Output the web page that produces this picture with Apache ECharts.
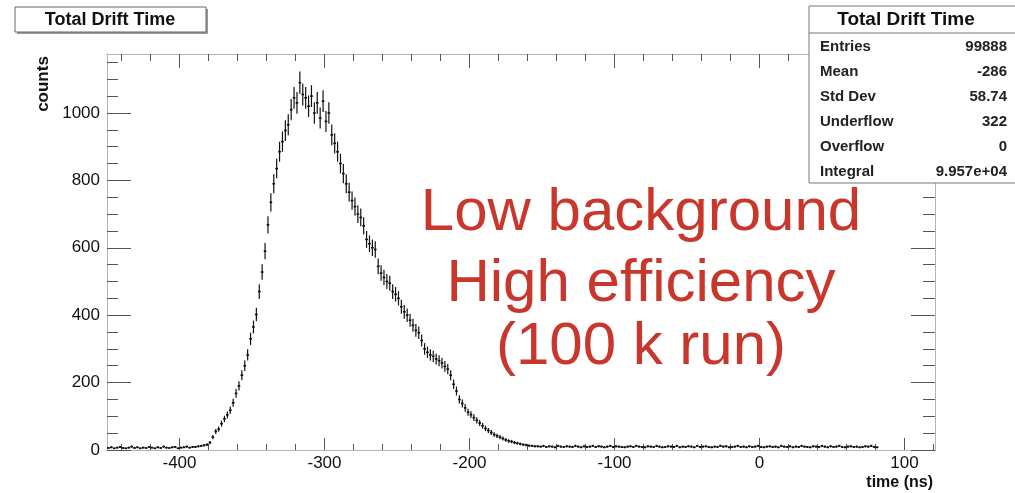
<!DOCTYPE html>
<html>
<head>
<meta charset="utf-8">
<script src="https://cdn.jsdelivr.net/npm/echarts@6.0.0/dist/echarts.min.js"></script>
<style>
  html, body { margin: 0; padding: 0; background: #fff; }
  #chart { width: 1015px; height: 493px; }
</style>
</head>
<body>
<div id="chart"></div>
<script>
// drift time histogram, 1 ns bins, every second bin shown (bin centres in ns)
var binStep = 2;

var flatStart = -449;
var flatCounts = [6, 8, 5, 7, 9, 6, 5, 7, 10, 6, 8, 5, 7, 6, 9, 7, 5, 8, 6, 10,
                  7, 6, 8, 9, 5, 7, 8, 10, 7, 9, 9, 11, 12, 14];

var riseStart = -381;
var riseCounts = [16, 22, 38, 55, 62, 78, 92, 104, 118, 140,
                  168, 190, 222, 250, 282, 330, 365, 402, 470, 528,
                  590, 668, 735, 790, 835, 885, 915, 948, 965, 1010,
                  1045, 1030];

var peakStart = -317;
var peakCounts = [1090, 1055, 1045, 1020, 1050, 1000, 1030, 985, 1035];

var fallStart = -299;
var fallCounts = [975, 1000, 935, 910, 885, 850, 820, 790, 765, 740,
                  722, 700, 690, 665, 625, 612, 600, 595, 545, 525,
                  512, 500, 495, 470, 462, 450, 425, 410, 400, 385,
                  370, 355, 348, 325, 300, 290, 282, 278, 270, 265,
                  258, 248, 240, 222, 195, 175, 150, 138, 125, 112,
                  105, 96, 88, 80, 72, 64, 58, 52, 46, 42,
                  38, 34, 30, 27, 25, 22, 20, 18, 16, 15,
                  13, 12, 11];

var tailStart = -153;
var tailCounts = [11, 10, 12, 9, 11, 10, 8, 12, 10, 9,
                  11, 10, 9, 12, 10, 8, 11, 9, 10, 12,
                  9, 11, 10, 8, 10, 12, 9, 11, 10, 9,
                  8, 10, 11, 9, 12, 10, 9, 8, 11, 10,
                  9, 12, 10, 8, 9, 11, 10, 9, 12, 8,
                  10, 9, 11, 10, 8, 12, 9, 10, 11, 9,
                  8, 10, 9, 12, 10, 11, 8, 9, 10, 12,
                  9, 10, 8, 11, 9, 10, 12, 9, 8, 10,
                  11, 9, 10, 8, 12, 10, 9, 11, 8, 10,
                  9, 12, 10, 9, 8, 11, 10, 9, 12, 10,
                  8, 11, 9, 10, 12, 9, 8, 10, 11, 9,
                  10, 8, 9, 11, 10, 12, 9, 8];

var xMajor = [-400, -300, -200, -100, 0, 100];
var xMinor = [-440, -420, -380, -360, -340, -320, -280, -260, -240, -220, -180, -160,
              -140, -120, -80, -60, -40, -20, 20, 40, 60, 80, 120];
var yMajor = [0, 200, 400, 600, 800, 1000];
var yMinor = [50, 100, 150, 250, 300, 350, 450, 500, 550, 650, 700, 750,
              850, 900, 950, 1050, 1100, 1150];

var statNames = ['Entries', 'Mean', 'Std Dev', 'Underflow', 'Overflow', 'Integral'];
var statValues = ['99888', '-286', '58.74', '322', '0', '9.957e+04'];

var noteLines = ['Low background', 'High efficiency', '(100 k run)'];

var segments = [
    { start: flatStart, values: flatCounts },
    { start: riseStart, values: riseCounts },
    { start: peakStart, values: peakCounts },
    { start: fallStart, values: fallCounts },
    { start: tailStart, values: tailCounts }
];
var points = [];
segments.forEach(function(seg) {
    seg.values.forEach(function(v, i) {
        points.push([seg.start + i * binStep, v]);
    });
});

var FONT = 'Liberation Sans, Arial, sans-serif';
var frameColor = '#b4b4b4';
var tickColor = '#555';

function plain(v) { return String(v); }

function xAxisDef(pos, ticks, len, labels) {
    return {
        type: 'value', min: -450, max: 121, position: pos,
        axisLine: { show: true, onZero: false, lineStyle: { color: frameColor, width: 1 } },
        axisTick: { show: true, inside: true, length: len, customValues: ticks,
                    lineStyle: { color: tickColor, width: 1 } },
        axisLabel: labels ? { show: true, customValues: xMajor, fontSize: 17, margin: 5,
                              color: '#111', fontFamily: FONT, formatter: plain } : { show: false },
        splitLine: { show: false }
    };
}
function yAxisDef(pos, ticks, len, labels) {
    return {
        type: 'value', min: 0, max: 1175, position: pos,
        axisLine: { show: true, onZero: false, lineStyle: { color: frameColor, width: 1 } },
        axisTick: { show: true, inside: true, length: len, customValues: ticks,
                    lineStyle: { color: tickColor, width: 1 } },
        axisLabel: labels ? { show: true, customValues: yMajor, fontSize: 17, margin: 7,
                              color: '#111', fontFamily: FONT, formatter: plain } : { show: false },
        splitLine: { show: false }
    };
}

var graphics = [
    // histogram title box
    { type: 'rect', z: 100, shape: { x: 17, y: 9, width: 191, height: 25 },
      style: { fill: '#999', stroke: null } },
    { type: 'rect', z: 101, shape: { x: 15, y: 7, width: 191, height: 25 },
      style: { fill: '#fff', stroke: '#666', lineWidth: 1 } },
    { type: 'text', z: 102, x: 110, y: 20,
      style: { text: 'Total Drift Time', font: 'bold 18px ' + FONT, fill: '#111',
               align: 'center', verticalAlign: 'middle' } },
    // stats box
    { type: 'rect', z: 100, shape: { x: 809, y: 6, width: 230, height: 177 },
      style: { fill: '#fff', stroke: '#777', lineWidth: 1 } },
    { type: 'line', z: 101, shape: { x1: 809, y1: 33, x2: 1015, y2: 33 },
      style: { stroke: '#777', lineWidth: 1 } },
    { type: 'text', z: 102, x: 906, y: 20,
      style: { text: 'Total Drift Time', font: 'bold 19px ' + FONT, fill: '#111',
               align: 'center', verticalAlign: 'middle' } },
    // axis titles
    { type: 'text', z: 50, x: 43, y: 84, rotation: Math.PI / 2,
      style: { text: 'counts', font: 'bold 17px ' + FONT, fill: '#111',
               align: 'center', verticalAlign: 'middle' } },
    { type: 'text', z: 50, x: 933, y: 483,
      style: { text: 'time (ns)', font: 'bold 16px ' + FONT, fill: '#111',
               align: 'right', verticalAlign: 'middle' } }
];
statNames.forEach(function(name, i) {
    var y = 47 + i * 25;
    graphics.push({ type: 'text', z: 102, x: 820, y: y,
        style: { text: name, font: 'bold 15px ' + FONT, fill: '#222',
                 align: 'left', verticalAlign: 'middle' } });
    graphics.push({ type: 'text', z: 102, x: 1007, y: y,
        style: { text: statValues[i], font: 'bold 15px ' + FONT, fill: '#222',
                 align: 'right', verticalAlign: 'middle' } });
});
var noteY = [213, 284, 347];
noteLines.forEach(function(line, i) {
    graphics.push({ type: 'text', z: 60, x: 641, y: noteY[i],
        style: { text: line, font: '60px ' + FONT, fill: '#c8362c',
                 align: 'center', verticalAlign: 'middle' } });
});

var chart = echarts.init(document.getElementById('chart'));
chart.setOption({
    animation: false,
    backgroundColor: '#fff',
    grid: { left: 107, right: 80, top: 54, bottom: 43, containLabel: false },
    xAxis: [
        xAxisDef('bottom', xMajor, 12, true),
        xAxisDef('bottom', xMinor, 6, false),
        xAxisDef('top', xMajor, 14, false),
        xAxisDef('top', xMinor, 7, false)
    ],
    yAxis: [
        yAxisDef('left', yMajor, 24, true),
        yAxisDef('left', yMinor, 11, false),
        yAxisDef('right', yMajor, 24, false),
        yAxisDef('right', yMinor, 12, false)
    ],
    series: [{
        type: 'custom',
        xAxisIndex: 0,
        yAxisIndex: 0,
        data: points,
        renderItem: function(params, api) {
            var t = api.value(0);
            var n = api.value(1);
            var err = Math.sqrt(n);
            var left = api.coord([t - 0.9, n]);
            var right = api.coord([t + 0.9, n]);
            var top = api.coord([t, n + err]);
            var bot = api.coord([t, Math.max(n - err, 0)]);
            return {
                type: 'group',
                children: [
                    { type: 'line', shape: { x1: left[0], y1: left[1], x2: right[0], y2: right[1] },
                      style: { stroke: '#000', lineWidth: 1.6 } },
                    { type: 'line', shape: { x1: top[0], y1: top[1], x2: bot[0], y2: bot[1] },
                      style: { stroke: '#111', lineWidth: 1.2 } }
                ]
            };
        }
    }],
    graphic: { elements: graphics }
});
</script>
</body>
</html>
